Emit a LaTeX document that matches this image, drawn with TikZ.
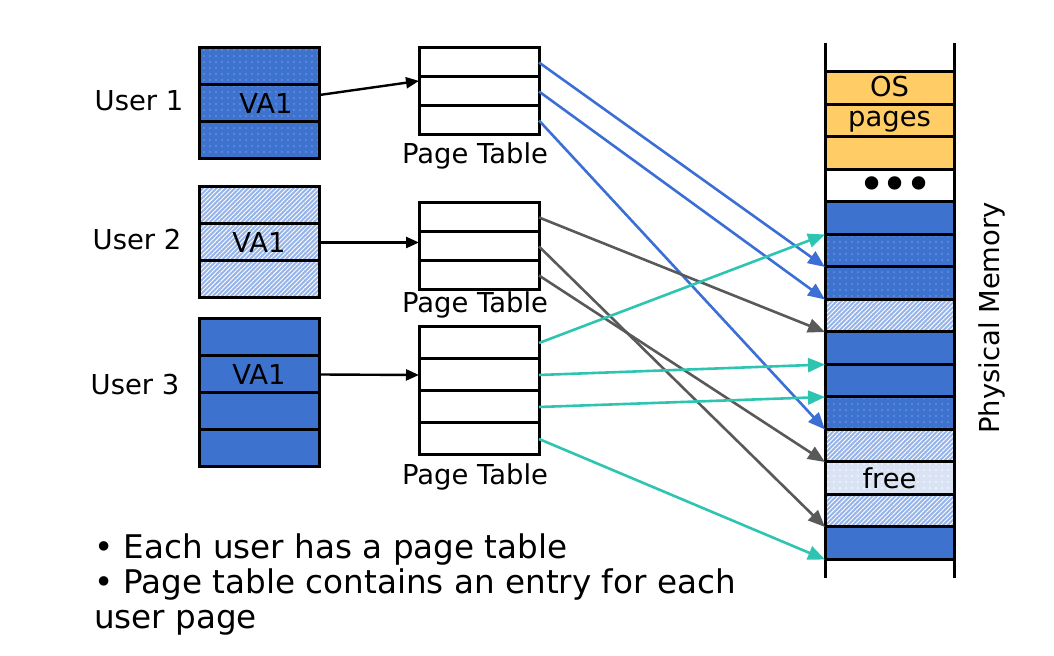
\documentclass[tikz,border=0pt]{standalone}
\usepackage{fontspec}
\setmainfont{DejaVu Sans}
\usepackage{xcolor}
\usetikzlibrary{positioning}
\usetikzlibrary{arrows.meta}
\usetikzlibrary{patterns.meta}

\definecolor{memblue}{RGB}{61,115,207}
\definecolor{dotblue}{RGB}{118,155,226}
\definecolor{hatchblue}{RGB}{150,180,234}
\definecolor{freeblue}{RGB}{218,227,243}
\definecolor{osorange}{RGB}{255,204,102}
\definecolor{linkblue}{RGB}{59,111,214}
\definecolor{linkteal}{RGB}{46,196,178}
\definecolor{linkgrey}{RGB}{89,89,89}

\tikzset{
	cell/.style={draw, line width=1.5pt, outer sep=0pt, inner sep=0pt, minimum width=60pt, minimum height=18.5pt},
	ptcell/.style={cell, minimum height=14.5pt},
	memcell/.style={cell, minimum width=64.5pt, minimum height=16.25pt},
	bluefill/.style={fill=memblue},
	dotfill/.style={preaction={fill=memblue}, pattern={Dots[distance=3pt,radius=0.4pt]}, pattern color=dotblue},
	hatchfill/.style={preaction={fill=hatchblue}, pattern={Lines[angle=45,distance=1.6pt,line width=0.45pt]}, pattern color=white},
	freefill/.style={preaction={fill=freeblue}, pattern={Dots[distance=3pt,radius=0.4pt]}, pattern color=white},
	osfill/.style={fill=osorange},
	ptrarrow/.style={-{Triangle[length=6.5pt,width=5.5pt]}, line width=1.2pt},
	maparrow/.style={-{Triangle[length=8.5pt,width=7pt]}, line width=1.3pt}
}

\begin{document}
\begin{tikzpicture}[x=0.5pt,y=-0.5pt,font=\fontsize{13.7}{15}\selectfont]
	\useasboundingbox (0,0) rectangle (1054,656);
	
	% users
	\node (user1) at (139,101) {User 1};
	\node (user2) at (137,240) {User 2};
	\node (user3) at (135,385) {User 3};
	
	\node[cell, dotfill] (u1r1) at (259,66.5) {};
	\node[cell, dotfill, below=0pt of u1r1] (u1r2) {\hspace{7pt}VA1};
	\node[cell, dotfill, below=0pt of u1r2] (u1r3) {};
	
	\node[cell, hatchfill] (u2r1) at (259,205.5) {};
	\node[cell, hatchfill, below=0pt of u2r1] (u2r2) {VA1};
	\node[cell, hatchfill, below=0pt of u2r2] (u2r3) {};
	
	\node[cell, bluefill] (u3r1) at (259,337.5) {};
	\node[cell, bluefill, below=0pt of u3r1] (u3r2) {VA1};
	\node[cell, bluefill, below=0pt of u3r2] (u3r3) {};
	\node[cell, bluefill, below=0pt of u3r3] (u3r4) {};
	
	% page tables
	\node[ptcell] (pt1r1) at (479,62.5) {};
	\node[ptcell, below=0pt of pt1r1] (pt1r2) {};
	\node[ptcell, below=0pt of pt1r2] (pt1r3) {};
	\node (pt1lab) at (475,156) {Page Table};
	
	\node[ptcell] (pt2r1) at (479,217.5) {};
	\node[ptcell, below=0pt of pt2r1] (pt2r2) {};
	\node[ptcell, below=0pt of pt2r2] (pt2r3) {};
	\node (pt2lab) at (475,305) {Page Table};
	
	\node[ptcell, minimum height=16pt] (pt3r1) at (479,343) {};
	\node[ptcell, minimum height=16pt, below=0pt of pt3r1] (pt3r2) {};
	\node[ptcell, minimum height=16pt, below=0pt of pt3r2] (pt3r3) {};
	\node[ptcell, minimum height=16pt, below=0pt of pt3r3] (pt3r4) {};
	\node (pt3lab) at (475,477) {Page Table};
	
	% physical memory
	\coordinate (memtl) at (825,43);
	\coordinate (membl) at (825,578);
	\coordinate (memtr) at (954,43);
	\coordinate (membr) at (954,578);
	
	\node[memcell, osfill] (os1) at (889.5,88.25) {};
	\node[memcell, osfill, below=0pt of os1] (os2) {};
	\node[memcell, osfill, below=0pt of os2] (os3) {};
	\node[align=center] (ostext) at (os1.south) {OS\\pages};
	\node[memcell, below=0pt of os3, font=\fontsize{23}{23}\selectfont, text height=15pt, text depth=0pt] (gap) {\hspace{6pt}•\kern-2pt•\kern-2pt•};
	\node[memcell, bluefill, below=0pt of gap] (m1) {};
	\node[memcell, dotfill, below=0pt of m1] (m2) {};
	\node[memcell, dotfill, below=0pt of m2] (m3) {};
	\node[memcell, hatchfill, below=0pt of m3] (m4) {};
	\node[memcell, bluefill, below=0pt of m4] (m5) {};
	\node[memcell, bluefill, below=0pt of m5] (m6) {};
	\node[memcell, dotfill, below=0pt of m6] (m7) {};
	\node[memcell, hatchfill, below=0pt of m7] (m8) {};
	\node[memcell, freefill, below=0pt of m8] (m9) {free};
	\node[memcell, hatchfill, below=0pt of m9] (m10) {};
	\node[memcell, bluefill, below=0pt of m10] (m11) {};
	
	\draw[line width=1.5pt] (memtl) -- (membl);
	\draw[line width=1.5pt] (memtr) -- (membr);
	
	\node[rotate=90] (physlab) at (992,318) {Physical Memory};
	
	% user -> page table
	\draw[ptrarrow] (u1r2.8) -- (pt1r2.170);
	\draw[ptrarrow] (u2r2.east) -- (u2r2.east -| pt2r2.west);
	\draw[ptrarrow] (u3r2.east) -- (pt3r2.west);
	
	% page table -> memory
	\draw[maparrow, linkblue] (pt1r1.east) -- (m3.north west);
	\draw[maparrow, linkblue] (pt1r2.east) -- (m4.north west);
	\draw[maparrow, linkblue] (pt1r3.east) -- (m8.north west);
	
	\draw[maparrow, linkgrey] (pt2r1.east) -- (m5.north west);
	\draw[maparrow, linkgrey] (pt2r2.east) -- (m11.north west);
	\draw[maparrow, linkgrey] (pt2r3.east) -- (m9.north west);
	
	\draw[maparrow, linkteal] (pt3r1.east) -- (m2.north west);
	\draw[maparrow, linkteal] (pt3r2.east) -- (m6.north west);
	\draw[maparrow, linkteal] (pt3r3.east) -- (m7.north west);
	\draw[maparrow, linkteal] (pt3r4.east) -- (m11.south west);
	
	% notes
	\node[anchor=west, align=left, font=\fontsize{16.3}{17.5}\selectfont] (notes) at (87,585) {• Each user has a page table\\• Page table contains an entry for each\\user page};
\end{tikzpicture}
\end{document}
